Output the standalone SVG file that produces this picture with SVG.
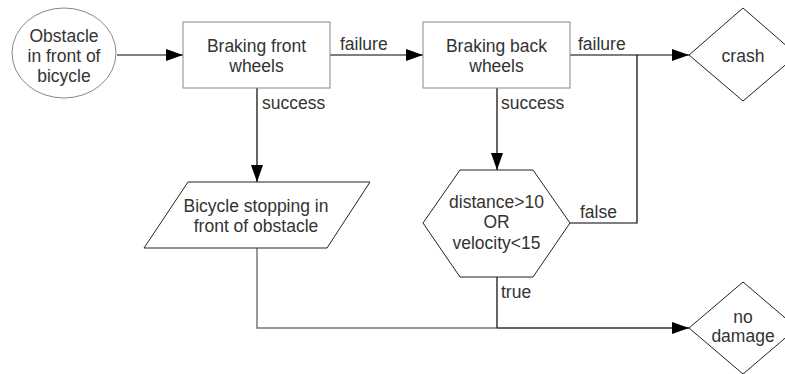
<svg xmlns="http://www.w3.org/2000/svg" width="785" height="374" viewBox="0 0 785 374">
<defs>
<marker id="arr" markerWidth="17" markerHeight="12" refX="17" refY="6" orient="auto" markerUnits="userSpaceOnUse">
<path d="M0,0 L17,6 L0,12 Z" fill="#000"/>
</marker>
<style>
.shape{fill:#fff;stroke:#888;stroke-width:1}
.dshape{fill:#fff;stroke:#222;stroke-width:1}
.t{font-family:"Liberation Sans",Arial,sans-serif;font-size:17.5px;fill:#333;text-anchor:middle}
.l{font-family:"Liberation Sans",Arial,sans-serif;font-size:17.5px;fill:#333}
.c{fill:none;stroke:#000;stroke-width:1.2}
</style>
</defs>
<rect width="785" height="374" fill="#fff"/>
<g id="connectors">
<line class="c" x1="117" y1="55" x2="183" y2="55" marker-end="url(#arr)"/>
<line class="c" x1="330" y1="55" x2="423" y2="55" marker-end="url(#arr)"/>
<line class="c" x1="570" y1="55" x2="689" y2="55" marker-end="url(#arr)"/>
<line class="c" x1="257" y1="88" x2="257" y2="182" marker-end="url(#arr)"/>
<line class="c" x1="497" y1="88" x2="497" y2="170" marker-end="url(#arr)"/>
<polyline class="c" points="570,223 637,223 637,55"/>
<polyline class="c" points="257,248 257,328 497,328" style="stroke:#777;stroke-width:1.5"/>
<line class="c" x1="497" y1="277" x2="497" y2="328"/>
<line class="c" x1="497" y1="328" x2="689" y2="328" style="stroke:#333;stroke-width:1.5" marker-end="url(#arr)"/>
<text class="l" x="340" y="50">failure</text>
<text class="l" x="578" y="50">failure</text>
<text class="l" x="262" y="109">success</text>
<text class="l" x="501" y="109">success</text>
<text class="l" x="580" y="218">false</text>
<text class="l" x="501" y="298">true</text>
</g>
<g id="obstacle">
<ellipse class="shape" cx="64" cy="53" rx="52" ry="45"/>
<text class="t" x="64" y="42">Obstacle</text>
<text class="t" x="64" y="62">in front of</text>
<text class="t" x="64" y="82">bicycle</text>
</g>
<g id="braking-front">
<rect class="shape" x="183" y="22" width="147" height="66"/>
<text class="t" x="256.5" y="52">Braking front</text>
<text class="t" x="256.5" y="72">wheels</text>
</g>
<g id="braking-back">
<rect class="shape" x="423" y="22" width="147" height="66"/>
<text class="t" x="496.5" y="52">Braking back</text>
<text class="t" x="496.5" y="72">wheels</text>
</g>
<g id="crash">
<polygon class="dshape" points="689,55 743,8 797,55 743,101"/>
<text class="t" x="743" y="62">crash</text>
</g>
<g id="stopping">
<polygon class="dshape" points="188,182 370,182 327,248 144,248"/>
<text class="t" x="256" y="212">Bicycle stopping in</text>
<text class="t" x="256" y="232">front of obstacle</text>
</g>
<g id="condition">
<polygon class="dshape" points="460,170 533,170 570,223 533,277 460,277 423,223"/>
<text class="t" x="496.5" y="208">distance&gt;10</text>
<text class="t" x="496.5" y="228">OR</text>
<text class="t" x="496.5" y="249">velocity&lt;15</text>
</g>
<g id="no-damage">
<polygon class="dshape" points="689,328 743,282 797,328 743,374"/>
<text class="t" x="743" y="323">no</text>
<text class="t" x="743" y="342">damage</text>
</g>
</svg>
